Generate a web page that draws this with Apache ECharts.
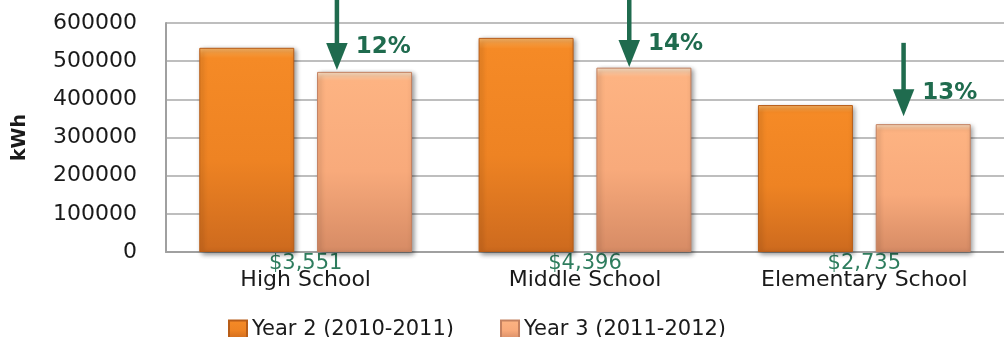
<!DOCTYPE html>
<html>
<head>
<meta charset="utf-8">
<script src="https://cdn.jsdelivr.net/npm/echarts@6/dist/echarts.min.js"></script>
<style>
html,body{margin:0;padding:0;background:#fff;}
#chart{width:1004px;height:337px;}
</style>
</head>
<body>
<div id="chart"></div>
<script>
const categories = ['High School', 'Middle School', 'Elementary School'];
const costSavings = ['$3,551', '$4,396', '$2,735'];
const seriesNames = ['Year 2 (2010-2011)', 'Year 3 (2011-2012)'];
const year2 = [535000, 561000, 385000];
const year3 = [472000, 483000, 335000];
const reductions = ['12%', '14%', '13%'];
const arrowTop = [680000, 680000, 548000];
const arrowTip = [477000, 485000, 356000];
const yTicks = [0, 100000, 200000, 300000, 400000, 500000, 600000];

const GREEN = '#1f6b4e';
const arrowOffsets = [31, 44, 39];

function barGrad(stops) {
  return new echarts.graphic.LinearGradient(0, 0, 0, 1,
    stops.map(function (s) { return {offset: s[0], color: s[1]}; }));
}
const c2 = barGrad([[0, '#fbb86c'], [0.025, '#f89c3e'], [0.05, '#f58a26'], [0.55, '#ee8323'], [1, '#cd6a1e']]);
const c3 = barGrad([[0, '#fde6cc'], [0.025, '#fdc8a0'], [0.05, '#fdb382'], [0.55, '#f8aa7b'], [1, '#d68b65']]);

const chart = echarts.init(document.getElementById('chart'), null, {renderer: 'canvas'});
chart.setOption({
  animation: false,
  grid: {left: 166, top: 23, height: 229, width: 845},
  legend: {
    data: seriesNames,
    left: 223, top: 314,
    icon: 'rect',
    itemWidth: 18, itemHeight: 18, itemGap: 46,
    textStyle: {fontFamily: 'DejaVu Sans', fontSize: 21, color: '#1a1a1a'}
  },
  xAxis: {
    type: 'category',
    data: categories,
    axisLine: {lineStyle: {color: '#a0a0a0', width: 2}},
    axisTick: {show: false},
    axisLabel: {
      margin: 3,
      formatter: function (v, i) { return '{cost|' + costSavings[i] + '}\n{cat|' + v + '}'; },
      rich: {
        cost: {fontFamily: 'DejaVu Sans', fontSize: 21, color: '#2e7d5e', lineHeight: 17},
        cat: {fontFamily: 'DejaVu Sans', fontSize: 22, color: '#1a1a1a', lineHeight: 17}
      }
    }
  },
  yAxis: {
    type: 'value',
    min: 0, max: 600000, interval: 100000,
    name: 'kWh',
    nameLocation: 'middle',
    nameRotate: 90,
    nameGap: 136,
    nameTextStyle: {fontFamily: 'DejaVu Sans', fontWeight: 'bold', fontSize: 19, color: '#1a1a1a'},
    axisLine: {show: true, lineStyle: {color: '#a0a0a0', width: 2}},
    axisTick: {show: false},
    splitLine: {lineStyle: {color: '#a8a8a8', width: 1.5}},
    axisLabel: {
      margin: 29,
      fontFamily: 'DejaVu Sans', fontSize: 22, color: '#1a1a1a',
      formatter: function (v) { return yTicks.indexOf(v) >= 0 ? String(v) : ''; }
    }
  },
  series: [
    {
      name: seriesNames[0], type: 'bar', data: year2,
      barWidth: 95, barGap: '24%',
      itemStyle: {color: c2, borderColor: '#b85d18', borderWidth: 1,
        shadowBlur: 5, shadowColor: 'rgba(0,0,0,0.45)', shadowOffsetX: 2, shadowOffsetY: 2}
    },
    {
      name: seriesNames[1], type: 'bar', data: year3,
      barWidth: 95,
      itemStyle: {color: c3, borderColor: '#c48160', borderWidth: 1,
        shadowBlur: 5, shadowColor: 'rgba(0,0,0,0.45)', shadowOffsetX: 2, shadowOffsetY: 2}
    },
    {
      name: 'arrows', type: 'custom', silent: true, clip: false, z: 10,
      data: categories.map(function (c, i) { return [i, arrowTop[i], arrowTip[i]]; }),
      renderItem: function (params, api) {
        const i = api.value(0);
        const x = api.coord([i, 0])[0] + arrowOffsets[params.dataIndex];
        const y1 = api.coord([i, api.value(1)])[1];
        const y2 = api.coord([i, api.value(2)])[1];
        const headH = 27, headW = 21;
        return {
          type: 'group',
          children: [
            {type: 'rect', shape: {x: x - 2, y: y1, width: 4.5, height: (y2 - headH + 4) - y1},
              style: {fill: GREEN}},
            {type: 'polygon', shape: {points: [[x - headW / 2, y2 - headH], [x + headW / 2 + 0.5, y2 - headH], [x + 0.25, y2]]},
              style: {fill: GREEN}},
            {type: 'text', x: x + 19, y: y2 - 23,
              style: {text: reductions[params.dataIndex], fill: GREEN, font: 'bold 23px "DejaVu Sans"',
                textAlign: 'left', textVerticalAlign: 'middle'}}
          ]
        };
      }
    }
  ]
});
</script>
</body>
</html>
